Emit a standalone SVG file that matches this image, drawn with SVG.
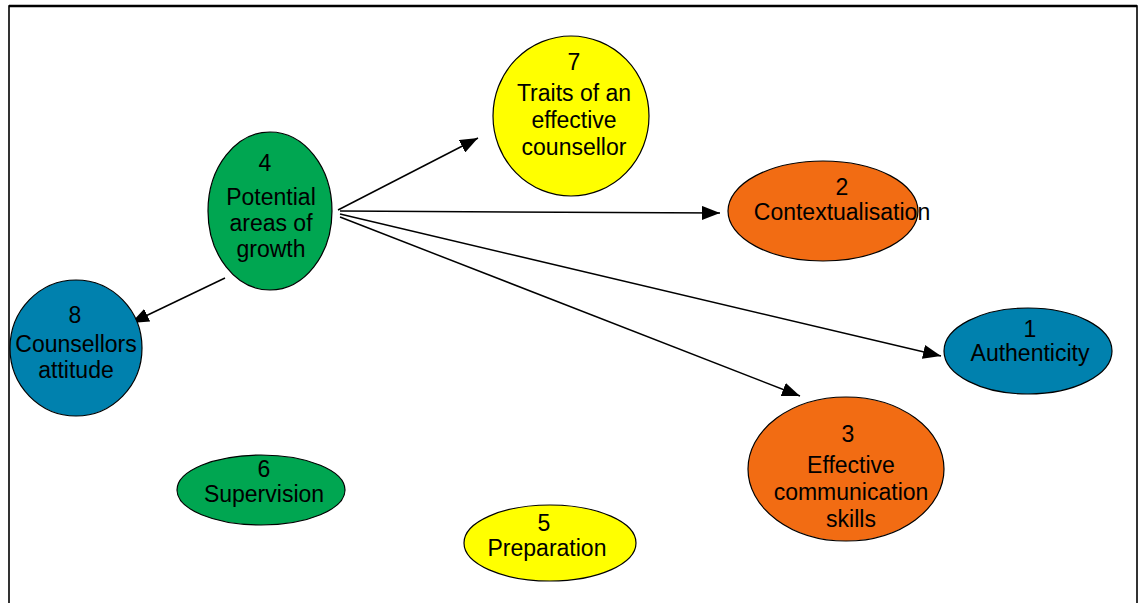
<svg xmlns="http://www.w3.org/2000/svg" width="1141" height="603" viewBox="0 0 1141 603">
  <style>
    .node { stroke: #000; stroke-width: 1.2; }
    .yellow { fill: #ffff00; }
    .green { fill: #00a651; }
    .blue { fill: #0081ae; }
    .orange { fill: #f26c13; }
    text { font-family: "Liberation Sans", Arial, sans-serif; font-size: 23px; fill: #000; text-anchor: middle; }
    .edge { stroke: #000; stroke-width: 1.5; fill: none; marker-end: url(#arrow); }
  </style>
  <defs>
    <marker id="arrow" viewBox="0 0 18 14" refX="18" refY="7" markerWidth="18" markerHeight="14" markerUnits="userSpaceOnUse" orient="auto">
      <path d="M0,0 L18,7 L0,14 z" fill="#000"/>
    </marker>
  </defs>
  <rect width="1141" height="603" fill="#fff"/>
  <!-- page frame -->
  <rect x="9" y="6" width="1128" height="640" fill="none" stroke="#000" stroke-width="1.6"/>
  <line x1="9" y1="6" x2="1137" y2="6" stroke="#000" stroke-width="2.4"/>

  <g id="connectors">
    <line class="edge" x1="338" y1="210" x2="478" y2="138"/>
    <line class="edge" x1="340" y1="211" x2="720" y2="213"/>
    <line class="edge" x1="340" y1="214" x2="941" y2="356"/>
    <line class="edge" x1="340" y1="217" x2="800" y2="396"/>
    <line class="edge" x1="225" y1="278" x2="131" y2="323"/>
  </g>

  <g id="node7">
    <ellipse class="node yellow" cx="571" cy="116" rx="78" ry="80"/>
    <text x="574" y="70">7</text>
    <text x="574" y="101">Traits of an</text>
    <text x="574" y="128">effective</text>
    <text x="574" y="155">counsellor</text>
  </g>

  <g id="node4">
    <ellipse class="node green" cx="270" cy="211" rx="62" ry="79"/>
    <text x="265" y="171">4</text>
    <text x="271" y="205">Potential</text>
    <text x="271" y="231">areas of</text>
    <text x="271" y="257">growth</text>
  </g>

  <g id="node8">
    <ellipse class="node blue" cx="76" cy="348" rx="66" ry="68"/>
    <text x="75" y="323">8</text>
    <text x="76" y="352">Counsellors</text>
    <text x="76" y="378">attitude</text>
  </g>

  <g id="node2">
    <ellipse class="node orange" cx="823" cy="211" rx="95" ry="50"/>
    <text x="842" y="195">2</text>
    <text x="842" y="220">Contextualisation</text>
  </g>

  <g id="node1">
    <ellipse class="node blue" cx="1028" cy="351" rx="84" ry="43"/>
    <text x="1030" y="337">1</text>
    <text x="1030" y="361">Authenticity</text>
  </g>

  <g id="node3">
    <ellipse class="node orange" cx="846" cy="469" rx="98" ry="72"/>
    <text x="848" y="442">3</text>
    <text x="851" y="473">Effective</text>
    <text x="851" y="500">communication</text>
    <text x="851" y="527">skills</text>
  </g>

  <g id="node6">
    <ellipse class="node green" cx="261" cy="490" rx="84" ry="35"/>
    <text x="264" y="477">6</text>
    <text x="264" y="502">Supervision</text>
  </g>

  <g id="node5">
    <ellipse class="node yellow" cx="550" cy="543" rx="86" ry="38"/>
    <text x="544" y="531">5</text>
    <text x="547" y="556">Preparation</text>
  </g>
</svg>
